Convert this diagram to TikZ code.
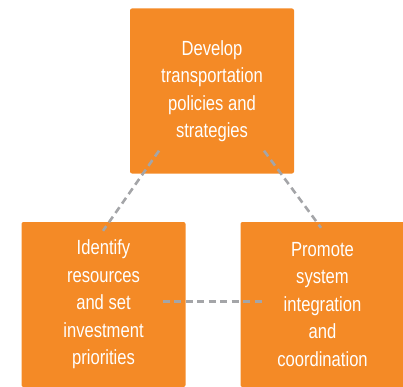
\documentclass[tikz,border=0pt]{standalone}
\usepackage{fontspec}
\setsansfont{Liberation Sans}[FakeStretch=0.81]
\definecolor{boxorange}{HTML}{F48A26}
\definecolor{linkgray}{HTML}{A4A5A8}
\begin{document}
\begin{tikzpicture}[x=1pt, y=1pt, task node/.style={rectangle,rounded corners=2pt,fill=boxorange,text=white,minimum width=164pt,minimum height=165pt,inner sep=0pt,align=center}, link/.style={draw=linkgray,line width=2.6pt,dash pattern=on 7pt off 4.5pt}]%
\useasboundingbox (0,0) rectangle (403,386);
\begin{scope}[every node/.style={font=\sffamily\fontsize{20.5}{27.5}\selectfont}]
\node[task node] (dev) at (212,295) {Develop\\transportation\\policies and\\strategies};
\node[task node] (ident) at (103.5,81.5) {Identify\\resources\\and set\\investment\\priorities};
\node[task node] (prom) at (322.5,81.5) {Promote\\system\\integration\\and\\coordination};
\end{scope}
\begin{scope}
\draw[link] ([xshift=-53pt,yshift=23pt]dev.south) edge ([xshift=-0.5pt,yshift=-9pt]ident.north);
\draw[link] ([xshift=52pt,yshift=23pt]dev.south) edge ([xshift=-1.5pt,yshift=-6pt]prom.north);
\draw[link] ([xshift=-23pt,yshift=3pt]ident.east) edge ([xshift=22pt,yshift=3pt]prom.west);
\end{scope}
\end{tikzpicture}
\end{document}
